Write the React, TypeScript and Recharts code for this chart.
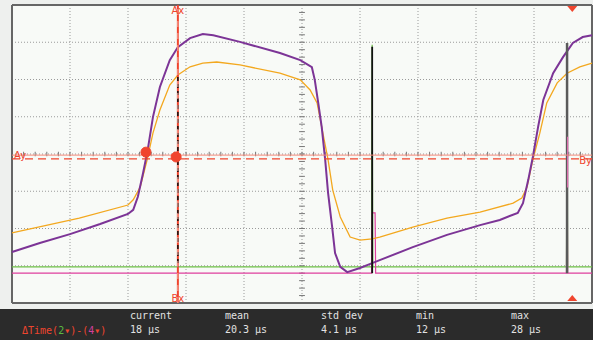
import { LineChart, Line, XAxis, YAxis, CartesianGrid, ReferenceLine, ReferenceDot } from 'recharts';

// scope screen: 10 horizontal divisions, 8 vertical divisions
const xTicks = [0, 1, 2, 3, 4, 5, 6, 7, 8, 9, 10];
const yTicks = [-4, -3, -2, -1, 0, 1, 2, 3, 4];
const minorX = Array.from({ length: 51 }, (_, i) => i * 0.2);
const minorY = Array.from({ length: 41 }, (_, i) => -4 + i * 0.2);

// channel traces, time in divisions, level in divisions
const purpleT = [0, 0.48, 1.0, 1.52, 2.0, 2.09, 2.17, 2.26, 2.34, 2.43, 2.55, 2.72, 2.86, 3.07, 3.29, 3.47, 3.93, 4.62, 4.97, 5.17, 5.22, 5.28, 5.34, 5.4, 5.45, 5.52, 5.57, 5.66, 5.78, 6.0, 6.21, 6.34, 6.91, 7.5, 8.07, 8.41, 8.72, 8.81, 8.9, 8.98, 9.07, 9.16, 9.33, 9.5, 9.67, 9.84, 10];
const purpleV = [-2.63, -2.39, -2.15, -1.88, -1.61, -1.5, -1.15, -0.51, 0.11, 0.99, 1.8, 2.52, 2.87, 3.11, 3.22, 3.19, 3.01, 2.71, 2.52, 2.33, 1.99, 1.37, 0.72, -0.16, -1.05, -1.96, -2.66, -3.03, -3.17, -3.06, -2.93, -2.85, -2.5, -2.17, -1.91, -1.77, -1.58, -1.32, -0.7, -0.08, 0.72, 1.45, 2.17, 2.6, 2.98, 3.14, 3.19];

const orangeT = [0, 1.16, 2.0, 2.09, 2.21, 2.33, 2.43, 2.55, 2.72, 2.86, 3.07, 3.29, 3.53, 3.93, 4.62, 4.97, 5.14, 5.26, 5.36, 5.45, 5.53, 5.66, 5.83, 6.0, 6.21, 6.34, 6.91, 7.5, 8.07, 8.64, 8.79, 8.88, 8.98, 9.1, 9.22, 9.4, 9.57, 9.79, 10];
const orangeV = [-2.12, -1.72, -1.37, -1.23, -0.89, -0.16, 0.56, 1.18, 1.85, 2.12, 2.34, 2.44, 2.47, 2.39, 2.17, 1.99, 1.72, 1.37, 0.56, -0.16, -0.97, -1.69, -2.23, -2.31, -2.28, -2.23, -1.96, -1.72, -1.56, -1.32, -1.18, -0.89, -0.16, 0.56, 1.37, 1.91, 2.17, 2.34, 2.44];

const greenT = [0, 6.2, 6.21, 6.22, 9.56, 9.57, 9.58, 10];
const greenV = [-3.03, -3.03, 2.93, -3.03, -3.03, 2.34, -3.03, -3.03];

const magentaT = [0, 6.2, 6.21, 6.26, 6.27, 9.56, 9.57, 9.58, 10];
const magentaV = [-3.2, -3.2, -1.58, -1.58, -3.2, -3.2, 0.46, -3.2, -3.2];

const toRows = (t: number[], v: number[]) => t.map((x, i) => ({ t: x, v: v[i] }));

const purpleData = toRows(purpleT, purpleV);
const orangeData = toRows(orangeT, orangeV);
const greenData = toRows(greenT, greenV);
const magentaData = toRows(magentaT, magentaV);
const blackA = toRows([6.21, 6.21], [2.88, -3.2]);
const blackB = toRows([2.86, 2.86], [2.07, -3.03]);
const grayC = toRows([9.57, 9.57], [2.98, -3.2]);
const pinkC = toRows([9.58, 9.58], [0.46, -0.9]);

const cursorX = 2.86;
const cursorAy = -0.03;
const cursorBy = -0.13;

const statLabels = ['current', 'mean', 'std dev', 'min', 'max'];
const statValues = ['18 µs', '20.3 µs', '4.1 µs', '12 µs', '28 µs'];
const statLeft = [130, 225, 321, 416, 511];

const RED = '#f0452e';

const tri = (down: boolean) => (p: any) => {
  const { cx, cy } = p;
  const d = down
    ? `M${cx - 5},${cy + 1}L${cx + 5},${cy + 1}L${cx},${cy + 7}Z`
    : `M${cx - 5},${cy - 2}L${cx + 5},${cy - 2}L${cx},${cy - 8}Z`;
  return <path d={d} fill={RED} />;
};

export default function App() {
  const mono = '"DejaVu Sans Mono", monospace';
  return (
    <div style={{ position: 'absolute', left: 0, top: 0, width: 593, height: 340, background: '#eef0ee', overflow: 'hidden' }}>
      <LineChart width={593} height={305} margin={{ top: 5, right: 1, left: 12, bottom: 2 }}>
        <CartesianGrid stroke="#9a9a9a" strokeDasharray="1 2" fill="#f8faf7" />
        <XAxis type="number" dataKey="t" domain={[0, 10]} ticks={xTicks} hide />
        <YAxis type="number" domain={[-4, 4]} ticks={yTicks} hide />
        {minorX.map((t) => (
          <ReferenceLine key={'mx' + t} segment={[{ x: t, y: -0.06 }, { x: t, y: 0.06 }]} stroke="#777" />
        ))}
        {minorY.map((v) => (
          <ReferenceLine key={'my' + v} segment={[{ x: 4.95, y: v }, { x: 5.05, y: v }]} stroke="#777" />
        ))}
        <ReferenceLine x={0} stroke="#666" strokeWidth={2} />
        <ReferenceLine x={10} stroke="#666" strokeWidth={2} />
        <ReferenceLine y={4} stroke="#666" strokeWidth={2} />
        <ReferenceLine y={-4} stroke="#666" strokeWidth={2} />
        <Line data={greenData} dataKey="v" stroke="#6cbf45" strokeWidth={1.2} dot={false} type="linear" isAnimationActive={false} />
        <Line data={magentaData} dataKey="v" stroke="#de3f9e" strokeWidth={1.2} dot={false} type="linear" isAnimationActive={false} />
        <Line data={orangeData} dataKey="v" stroke="#f3a81f" strokeWidth={1.3} dot={false} type="linear" isAnimationActive={false} />
        <Line data={purpleData} dataKey="v" stroke="#7c3496" strokeWidth={2} dot={false} type="linear" isAnimationActive={false} />
        <Line data={blackA} dataKey="v" stroke="#111" strokeWidth={1.8} dot={false} isAnimationActive={false} />
        <Line data={grayC} dataKey="v" stroke="#5a5a5a" strokeWidth={2.5} dot={false} isAnimationActive={false} />
        <Line data={pinkC} dataKey="v" stroke="#e070b0" strokeWidth={1.2} dot={false} isAnimationActive={false} />
        <ReferenceLine
          y={cursorAy}
          stroke="#f48a7a"
          strokeWidth={1}
          label={{ value: 'Ay', position: 'insideLeft', fill: RED, fontSize: 10, fontFamily: 'DejaVu Sans', offset: 2 }}
        />
        <ReferenceLine
          y={cursorBy}
          stroke={RED}
          strokeDasharray="8 5"
          strokeWidth={1.2}
          label={{ value: 'By', position: 'insideRight', fill: RED, fontSize: 10, fontFamily: 'DejaVu Sans', offset: 0, dy: 2 }}
        />
        <ReferenceLine
          x={cursorX}
          stroke={RED}
          strokeWidth={2}
          label={{ value: 'Ax', position: 'insideTop', fill: RED, fontSize: 10, fontFamily: 'DejaVu Sans', offset: 2 }}
        />
        <Line data={blackB} dataKey="v" stroke="#111" strokeWidth={1.5} strokeDasharray="4 3" dot={false} isAnimationActive={false} />
        <ReferenceLine
          x={cursorX}
          stroke="#f6b0a6"
          strokeDasharray="6 6"
          strokeWidth={1}
          label={{ value: 'Bx', position: 'insideBottom', fill: RED, fontSize: 10, fontFamily: 'DejaVu Sans', offset: 1 }}
        />
        <ReferenceDot x={2.31} y={0.05} r={5} fill={RED} stroke={RED} />
        <ReferenceDot x={2.83} y={-0.08} r={5} fill={RED} stroke={RED} />
        <ReferenceDot x={9.66} y={4} r={5} shape={tri(true)} />
        <ReferenceDot x={9.66} y={-4} r={5} shape={tri(false)} />
      </LineChart>
      <div style={{ position: 'absolute', left: 0, top: 309, width: 593, height: 31, background: '#2b2b2b' }} />
      <div style={{ position: 'absolute', left: 22, top: 325, fontFamily: mono, fontSize: 10, lineHeight: '12px', color: RED, whiteSpace: 'pre' }}>
        ΔTime(<span style={{ color: '#5db842' }}>2</span>▾)-(<span style={{ color: '#d2409c' }}>4</span>▾)
      </div>
      {statLabels.map((s, i) => (
        <div key={s} style={{ position: 'absolute', left: statLeft[i], top: 310, fontFamily: mono, fontSize: 10, lineHeight: '12px', color: '#e2e2e2', whiteSpace: 'pre' }}>
          {s}
        </div>
      ))}
      {statValues.map((s, i) => (
        <div key={s} style={{ position: 'absolute', left: statLeft[i], top: 324, fontFamily: mono, fontSize: 10, lineHeight: '12px', color: '#e2e2e2', whiteSpace: 'pre' }}>
          {s}
        </div>
      ))}
    </div>
  );
}
